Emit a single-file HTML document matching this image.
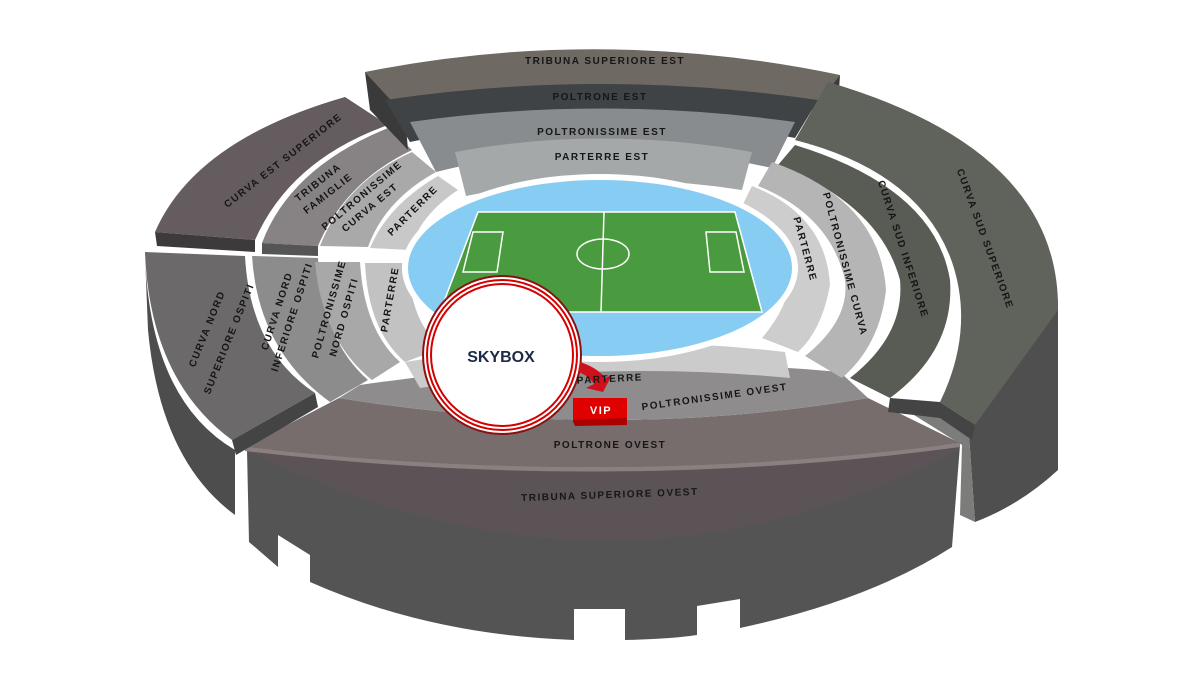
<!DOCTYPE html>
<html><head><meta charset="utf-8"><style>
html,body{margin:0;padding:0;background:#fff;}
svg{display:block;}
text{font-family:"Liberation Sans",sans-serif;font-weight:bold;font-size:10px;letter-spacing:1.5px;fill:#161616;text-anchor:middle;}
</style></head><body>
<svg width="1200" height="677" viewBox="0 0 1200 677" xmlns="http://www.w3.org/2000/svg">
<rect width="1200" height="677" fill="#fff"/>
<!-- right extrusion -->
<path d="M1058,300 L1058,470 Q1020,505 975,522 L968,420 Z" fill="#4f4f4f"/>
<path d="M890,400 L968,420 L975,522 L960,515 L962,445 Z" fill="#7c7d7a"/>
<!-- left extrusion -->
<path d="M145,255 Q150,400 235,450 L235,515 Q160,460 148,330 Z" fill="#4d4d4d"/>
<!-- front face -->
<path d="M247,450 L249,542 L278,567 L278,535 L310,555 L310,582 Q430,635 574,640 L574,609 L625,609 L625,640 Q670,639 697,635 L697,606 L740,599 L740,628 Q870,600 952,547 L960,445 Z" fill="#545454"/>
<!-- Tribuna superiore ovest top -->
<path d="M245,447 Q610,489 960,443 L958,450 Q610,631 247,450 Z" fill="#5c5356"/>
<!-- poltrone ovest -->
<path d="M339,398 Q610,442 868,398 L960,443 Q610,489 245,447 Z" fill="#776d6d"/>
<path d="M245,447 Q610,489 960,443 L960,447 Q610,494 245,451 Z" fill="#8a8080"/>
<!-- poltronissime ovest -->
<path d="M360,385 Q600,350 840,372 L868,398 Q610,442 339,398 Z" fill="#8e8c8c"/>
<!-- parterre bottom -->
<path d="M405,362 Q600,330 785,352 L790,378 Q600,360 420,388 Z" fill="#cbcbcb"/>
<!-- Curva nord superiore -->
<path d="M145,252 L245,256 Q250,350 315,393 L232,440 Q150,380 145,252 Z" fill="#6b696a"/>
<path d="M232,440 L315,393 L318,407 L236,455 Z" fill="#444"/>
<!-- curva inferiore ospiti -->
<path d="M252,256 L318,258 Q322,340 368,380 L330,402 Q258,350 252,256 Z" fill="#8d8c8c"/>
<!-- poltronissime nord ospiti -->
<path d="M315,262 L360,262 Q364,330 400,362 L372,380 Q322,340 315,262 Z" fill="#a8a8a8"/>
<!-- parterre left -->
<path d="M365,263 L408,263 Q410,322 442,348 L405,362 Q368,330 365,263 Z" fill="#c2c2c2"/>
<!-- Curva est superiore -->
<path d="M155,232 Q195,140 345,97 L388,125 Q290,160 255,240 Z" fill="#655c60"/>
<path d="M155,232 L255,240 L255,252 L157,246 Z" fill="#3d3a3b"/>
<!-- tribuna famiglie -->
<path d="M262,243 Q290,168 388,128 L412,150 Q345,182 318,246 Z" fill="#878283"/>
<path d="M262,243 L318,246 L318,256 L262,254 Z" fill="#555"/>
<!-- poltronissime curva est -->
<path d="M320,246 Q345,182 412,152 L436,172 Q385,200 368,247 Z" fill="#a9a9a9"/>
<!-- parterre upper left -->
<path d="M370,248 Q388,205 438,176 L458,190 Q420,215 410,250 Z" fill="#c8c8c8"/>
<!-- Tribuna superiore est -->
<path d="M365,72 Q600,25 840,75 L812,110 Q600,65 405,115 Z" fill="#6f6963"/>
<path d="M365,72 L405,115 L408,150 L370,110 Z" fill="#3a3a3a"/>
<path d="M840,75 L812,110 L810,145 L838,105 Z" fill="#3a3a3a"/>
<!-- poltrone est -->
<path d="M385,100 Q600,68 818,100 L795,138 Q600,100 410,142 Z" fill="#3f4345"/>
<!-- poltronissime est -->
<path d="M410,122 Q600,95 795,122 L772,168 Q600,130 436,172 Z" fill="#888c8f"/>
<!-- parterre est -->
<path d="M455,152 Q600,125 752,152 L742,190 Q600,168 466,196 Z" fill="#a5a8a9"/>
<!-- Curva sud superiore -->
<path d="M828,82 Q1060,150 1058,310 L975,425 L940,402 Q975,330 952,262 Q920,172 795,140 Z" fill="#60625c"/>
<!-- curva sud inferiore -->
<path d="M795,145 Q935,188 950,280 Q955,350 890,398 L850,378 Q905,335 900,280 Q880,205 778,165 Z" fill="#595b55"/>
<path d="M890,398 L940,402 L975,425 L972,440 L940,418 L888,412 Z" fill="#444"/>
<!-- poltronissime curva -->
<path d="M772,162 Q880,200 886,290 Q880,345 842,378 L805,356 Q850,320 845,280 Q830,215 758,186 Z" fill="#b5b5b5"/>
<!-- parterre right -->
<path d="M752,186 Q826,215 830,285 Q822,330 798,352 L762,338 Q790,305 790,275 Q785,230 742,206 Z" fill="#cdcdcd"/>
<!-- field -->
<ellipse cx="600" cy="268" rx="198" ry="94" fill="#fff"/>
<ellipse cx="600" cy="268" rx="192" ry="88" fill="#86ccf3"/>
<polygon points="478,212 735,212 762,312 440,312" fill="#4a9a3f" stroke="#fff" stroke-width="1.5"/>
<line x1="604" y1="212" x2="601" y2="312" stroke="#fff" stroke-width="1.5"/>
<ellipse cx="603" cy="254" rx="26" ry="15" fill="none" stroke="#fff" stroke-width="1.5"/>
<polygon points="473,232 503,232 497,272 463,272" fill="none" stroke="#fff" stroke-width="1.5"/>
<polygon points="706,232 736,232 744,272 710,272" fill="none" stroke="#fff" stroke-width="1.5"/>
<!-- skybox -->
<circle cx="502" cy="355" r="80" fill="#8b1010"/>
<circle cx="502" cy="355" r="78" fill="#fff"/>
<circle cx="502" cy="355" r="76" fill="#d40000"/>
<circle cx="502" cy="355" r="74" fill="#fff"/>
<circle cx="502" cy="355" r="72" fill="#d40000"/>
<circle cx="502" cy="355" r="70" fill="#fff"/>
<text x="501" y="362" style="font-size:16px;letter-spacing:0;fill:#1d2a44">SKYBOX</text>
<path d="M580,362 Q598,368 605,378 L612,375 L603,392 L586,388 L594,384 Q588,375 578,372 Z" fill="#d0101a"/>
<!-- VIP -->
<polygon points="573,398 627,398 627,420 573,423" fill="#e00000"/>
<polygon points="573,420 627,418 627,425 575,426" fill="#a00"/>
<text x="601" y="414" style="fill:#fff;font-size:11px">VIP</text>
<!-- labels -->
<text x="605" y="64">TRIBUNA SUPERIORE EST</text>
<text x="600" y="100">POLTRONE EST</text>
<text x="602" y="135">POLTRONISSIME EST</text>
<text x="602" y="160">PARTERRE EST</text>
<text transform="translate(285,163) rotate(-38)">CURVA EST SUPERIORE</text>
<text transform="translate(320,185) rotate(-38)">TRIBUNA</text>
<text transform="translate(330,196) rotate(-38)">FAMIGLIE</text>
<text transform="translate(364,198) rotate(-40)">POLTRONISSIME</text>
<text transform="translate(372,210) rotate(-40)">CURVA EST</text>
<text transform="translate(415,213) rotate(-45)">PARTERRE</text>
<text transform="translate(210,330) rotate(-68)">CURVA NORD</text>
<text transform="translate(232,340) rotate(-68)">SUPERIORE OSPITI</text>
<text transform="translate(280,312) rotate(-72)">CURVA NORD</text>
<text transform="translate(295,318) rotate(-72)">INFERIORE OSPITI</text>
<text transform="translate(332,310) rotate(-74)">POLTRONISSIME</text>
<text transform="translate(347,318) rotate(-74)">NORD OSPITI</text>
<text transform="translate(393,300) rotate(-80)">PARTERRE</text>
<text transform="translate(982,240) rotate(70)">CURVA SUD SUPERIORE</text>
<text transform="translate(900,250) rotate(72)">CURVA SUD INFERIORE</text>
<text transform="translate(842,265) rotate(75)">POLTRONISSIME CURVA</text>
<text transform="translate(802,250) rotate(75)">PARTERRE</text>
<text x="610" y="382" transform="rotate(-3 610 382)">PARTERRE</text>
<text x="715" y="400" transform="rotate(-8 715 400)">POLTRONISSIME OVEST</text>
<text x="610" y="448">POLTRONE OVEST</text>
<text x="610" y="498" transform="rotate(-2 610 498)">TRIBUNA SUPERIORE OVEST</text>
</svg>
</body></html>
